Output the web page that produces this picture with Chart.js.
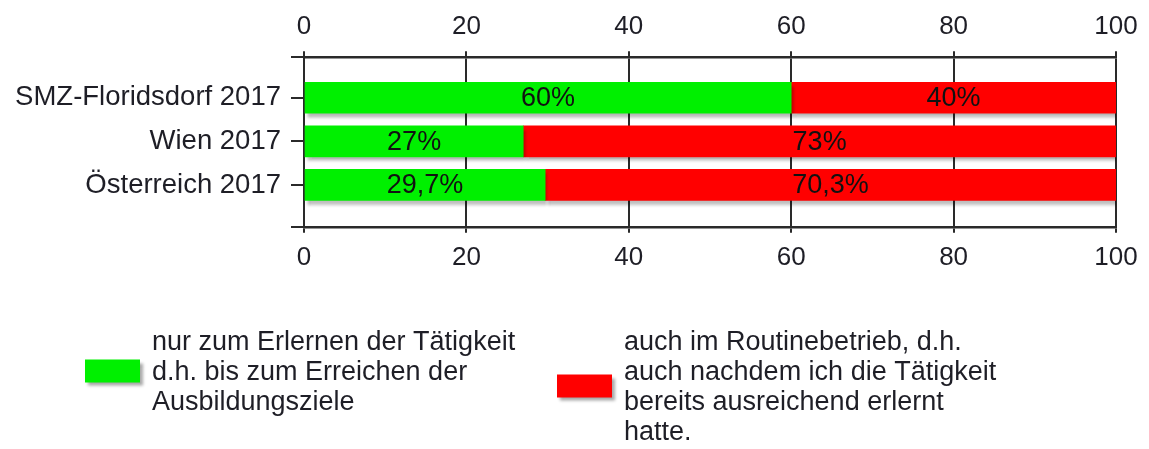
<!DOCTYPE html>
<html>
<head>
<meta charset="utf-8">
<script src="https://cdn.jsdelivr.net/npm/chart.js@4.4.1/dist/chart.umd.min.js"></script>
<style>
html,body{margin:0;padding:0;background:#ffffff;}
#wrap{width:1149px;height:449px;position:relative;}
</style>
</head>
<body>
<div id="wrap"><canvas id="c" width="1149" height="449"></canvas></div>
<script>
// ---- data ----
const categories = ['SMZ-Floridsdorf 2017', 'Wien 2017', 'Österreich 2017'];
const learningOnly = [60, 27, 29.7];
const routineToo = [40, 73, 70.3];
const seriesNames = [
  ['nur zum Erlernen der Tätigkeit', 'd.h. bis zum Erreichen der', 'Ausbildungsziele'],
  ['auch im Routinebetrieb, d.h.', 'auch nachdem ich die Tätigkeit', 'bereits ausreichend erlernt', 'hatte.']
];
const seriesColors = ['#00f000', '#ff0000'];
const xTicks = [0, 20, 40, 60, 80, 100];

const FONT = "'Liberation Sans', Arial, sans-serif";
const INK = '#1e1e26';
const LINE = '#2a2a2a';

function fmt(v) { return String(v).replace('.', ',') + '%'; }

const barShadow = {
  id: 'barShadow',
  beforeDatasetsDraw(chart) {
    const ctx = chart.ctx;
    ctx.save();
    ctx.shadowColor = 'rgba(0,0,0,0.28)';
    ctx.shadowOffsetX = 2;
    ctx.shadowOffsetY = 4;
    ctx.shadowBlur = 3;
  },
  afterDatasetsDraw(chart) {
    const ctx = chart.ctx;
    ctx.restore();
    const seriesValues = [learningOnly, routineToo];
    ctx.save();
    ctx.font = '27px ' + FONT;
    ctx.fillStyle = '#111111';
    ctx.textAlign = 'center';
    ctx.textBaseline = 'middle';
    chart.data.datasets.forEach((ds, i) => {
      const meta = chart.getDatasetMeta(i);
      meta.data.forEach((bar, j) => {
        const p = bar.getProps(['x', 'y', 'base'], true);
        ctx.fillText(fmt(seriesValues[i][j]), (p.x + p.base) / 2, p.y + 1);
      });
    });
    ctx.restore();
  }
};

const customLegend = {
  id: 'customLegend',
  afterDraw(chart, args, opts) {
    const ctx = chart.ctx;
    const lh = 30;
    ctx.save();
    seriesNames.forEach((lines, i) => {
      const x0 = opts.xs[i];
      const top = opts.top;
      const blockMid = top + (lines.length - 1) * lh / 2;
      const bw = 55, bh = 23;
      ctx.save();
      ctx.shadowColor = 'rgba(0,0,0,0.35)';
      ctx.shadowOffsetX = 3;
      ctx.shadowOffsetY = 3;
      ctx.shadowBlur = 3;
      ctx.fillStyle = seriesColors[i];
      ctx.fillRect(x0, blockMid - bh / 2 - 2, bw, bh);
      ctx.restore();
      ctx.font = '27px ' + FONT;
      ctx.fillStyle = INK;
      ctx.textAlign = 'left';
      ctx.textBaseline = 'middle';
      lines.forEach((t, k) => ctx.fillText(t, x0 + bw + 12, top + k * lh));
    });
    ctx.restore();
  }
};

const ctx = document.getElementById('c').getContext('2d');
new Chart(ctx, {
  type: 'bar',
  data: {
    datasets: [
      {
        label: seriesNames[0].join(' '),
        data: learningOnly.map((v, i) => ({ x: v, y: i })),
        backgroundColor: seriesColors[0],
        borderWidth: 0,
        barThickness: 31,
        xAxisID: 'x',
        yAxisID: 'y'
      },
      {
        label: seriesNames[1].join(' '),
        data: routineToo.map((v, i) => ({ x: v, y: i })),
        backgroundColor: seriesColors[1],
        borderWidth: 0,
        barThickness: 31,
        xAxisID: 'x',
        yAxisID: 'y'
      }
    ]
  },
  options: {
    indexAxis: 'y',
    responsive: false,
    animation: false,
    devicePixelRatio: 1,
    layout: { padding: { left: 0, right: 33, top: 2, bottom: 167 } },
    scales: {
      x: {
        type: 'linear',
        position: 'top',
        stacked: true,
        min: 0, max: 100,
        afterBuildTicks: s => { s.ticks = xTicks.map(v => ({ value: v })); },
        ticks: { font: { family: FONT, size: 26 }, color: INK, padding: 9 },
        grid: { color: LINE, lineWidth: 2, tickLength: 6, drawOnChartArea: true },
        border: { display: true, color: LINE, width: 2.5 }
      },
      x2: {
        type: 'linear',
        axis: 'x',
        position: 'bottom',
        min: 0, max: 100,
        afterBuildTicks: s => { s.ticks = xTicks.map(v => ({ value: v })); },
        ticks: { font: { family: FONT, size: 26 }, color: INK, padding: 9 },
        grid: { color: LINE, lineWidth: 2, tickLength: 6, drawOnChartArea: false },
        border: { display: true, color: LINE, width: 2.5 }
      },
      y: {
        type: 'linear',
        position: 'left',
        reverse: true,
        stacked: true,
        offset: false,
        min: -0.93, max: 2.96,
        afterBuildTicks: s => {
          s.ticks = [{ value: -0.93 }].concat(categories.map((c, i) => ({ value: i })), [{ value: 2.96 }]);
        },
        afterFit: s => { s.width = 304; },
        ticks: {
          autoSkip: false,
          font: { family: FONT, size: 27.5 },
          color: INK,
          padding: 10,
          callback: v => (Number.isInteger(v) ? categories[v] : '')
        },
        grid: { color: LINE, lineWidth: 2, tickLength: 13, drawOnChartArea: false, offset: false },
        border: { display: true, color: LINE, width: 2 }
      }
    },
    plugins: {
      legend: { display: false },
      tooltip: { enabled: false },
      customLegend: { xs: [85, 557], top: 343 }
    }
  },
  plugins: [barShadow, customLegend]
});
</script>
</body>
</html>
